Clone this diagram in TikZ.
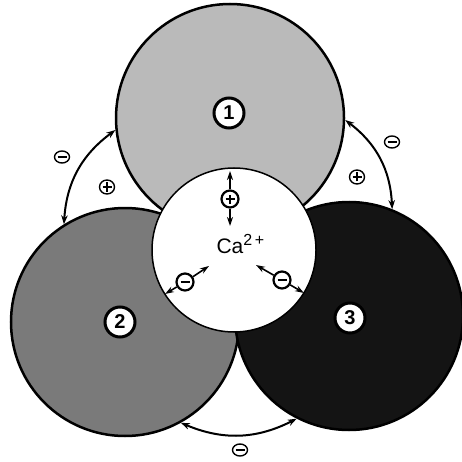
\documentclass[tikz,border=0pt]{standalone}
\usepackage{fontspec}
\setmainfont{Liberation Sans}
\usetikzlibrary{shapes.geometric, arrows.meta}
\newcommand\chgminus[1]{\draw[line width=#1] ([xshift=-4.5pt]path picture bounding box.center) -- ([xshift=4.5pt]path picture bounding box.center);}
\newcommand\chgplus[1]{\chgminus{#1}\draw[line width=#1] ([yshift=-4.5pt]path picture bounding box.center) -- ([yshift=4.5pt]path picture bounding box.center);}
\tikzset{
  lobe/.style={
    circle, draw=black, line width=2.5pt,
    minimum size=228pt, inner sep=0pt
  },
  core/.style={
    circle, draw=black, line width=1.5pt, fill=white,
    minimum size=164pt, inner sep=0pt
  },
  site label/.style={
    circle, draw=black, line width=3pt, fill=white,
    minimum size=30pt, inner sep=0pt,
    font=\fontsize{20}{20}\selectfont\bfseries
  },
  bound charge/.style={
    circle, draw=black, line width=2.2pt, fill=white,
    minimum size=17pt, inner sep=0pt
  },
  bound minus/.style={bound charge, path picture={\chgminus{2pt}}},
  bound plus/.style={bound charge, path picture={\chgplus{1.8pt}}},
  free charge/.style={
    ellipse, draw=black, line width=1.4pt,
    minimum width=15pt, minimum height=12pt, inner sep=0pt
  },
  free minus/.style={free charge, path picture={\chgminus{1.3pt}}},
  free plus/.style={free charge, minimum height=14pt, path picture={\chgplus{1.3pt}}},
  link arrow/.style={
    {Stealth[length=9pt,width=6.5pt]}-{Stealth[length=9pt,width=6.5pt]},
    line width=2pt, draw=black
  },
  bind arrow/.style={
    -{Stealth[length=9pt,width=6pt]}, line width=1.6pt, draw=black
  }
}

\begin{document}
\begin{tikzpicture}[x=1pt, y=-1pt]
  \useasboundingbox (0,0) rectangle (462,462);

  % lobes and the central site
  \node (d1) [lobe, fill=black!27] at (230,118) {};
  \node (d2) [lobe, fill=black!52] at (125,322) {};
  \node (d3) [lobe, fill=black!92] at (349,316) {};
  \node (core) [core] at (234,250) {};
  \node (ca) [anchor=base west] at (213,253)
    {\fontsize{21}{21}\selectfont Ca\raisebox{7.5pt}{\fontsize{16}{16}\selectfont 2\,+}};

  \node (n1) [site label] at (229,113) {1};
  \node (n2) [site label] at (120,322) {2};
  \node (n3) [site label] at (350,318) {3};

  % charges at the site
  \node (qt) [bound plus] at (230,199) {};
  \node (ql) [bound minus] at (185,282) {};
  \node (qr) [bound minus] at (282,280) {};
  \coordinate (qt up) at (230,171);
  \coordinate (qt down) at (230,226);
  \coordinate (ql out) at (165,294);
  \coordinate (ql in) at (209,266);
  \coordinate (qr in) at (256,265);
  \coordinate (qr out) at (304,293);

  \draw [bind arrow] (qt) -- (qt up);
  \draw [bind arrow] (qt) -- (qt down);
  \draw [bind arrow] (ql) -- (ql out);
  \draw [bind arrow] (ql) -- (ql in);
  \draw [bind arrow] (qr) -- (qr in);
  \draw [bind arrow] (qr) -- (qr out);

  % charges between lobes
  \node (fl minus) [free minus] at (62,157) {};
  \node (fl plus) [free plus] at (107,187) {};
  \node (fr minus) [free minus] at (392,142) {};
  \node (fr plus) [free plus] at (357,177) {};
  \node (fb minus) [free minus] at (240,450) {};

  \draw [link arrow] (d1.186) to[bend right=25] (d2.122);
  \draw [link arrow] (d1.359) to[bend left=25] (d3.68);
  \draw [link arrow] (d2.299) to[bend right=25] (d3.243);
\end{tikzpicture}
\end{document}
